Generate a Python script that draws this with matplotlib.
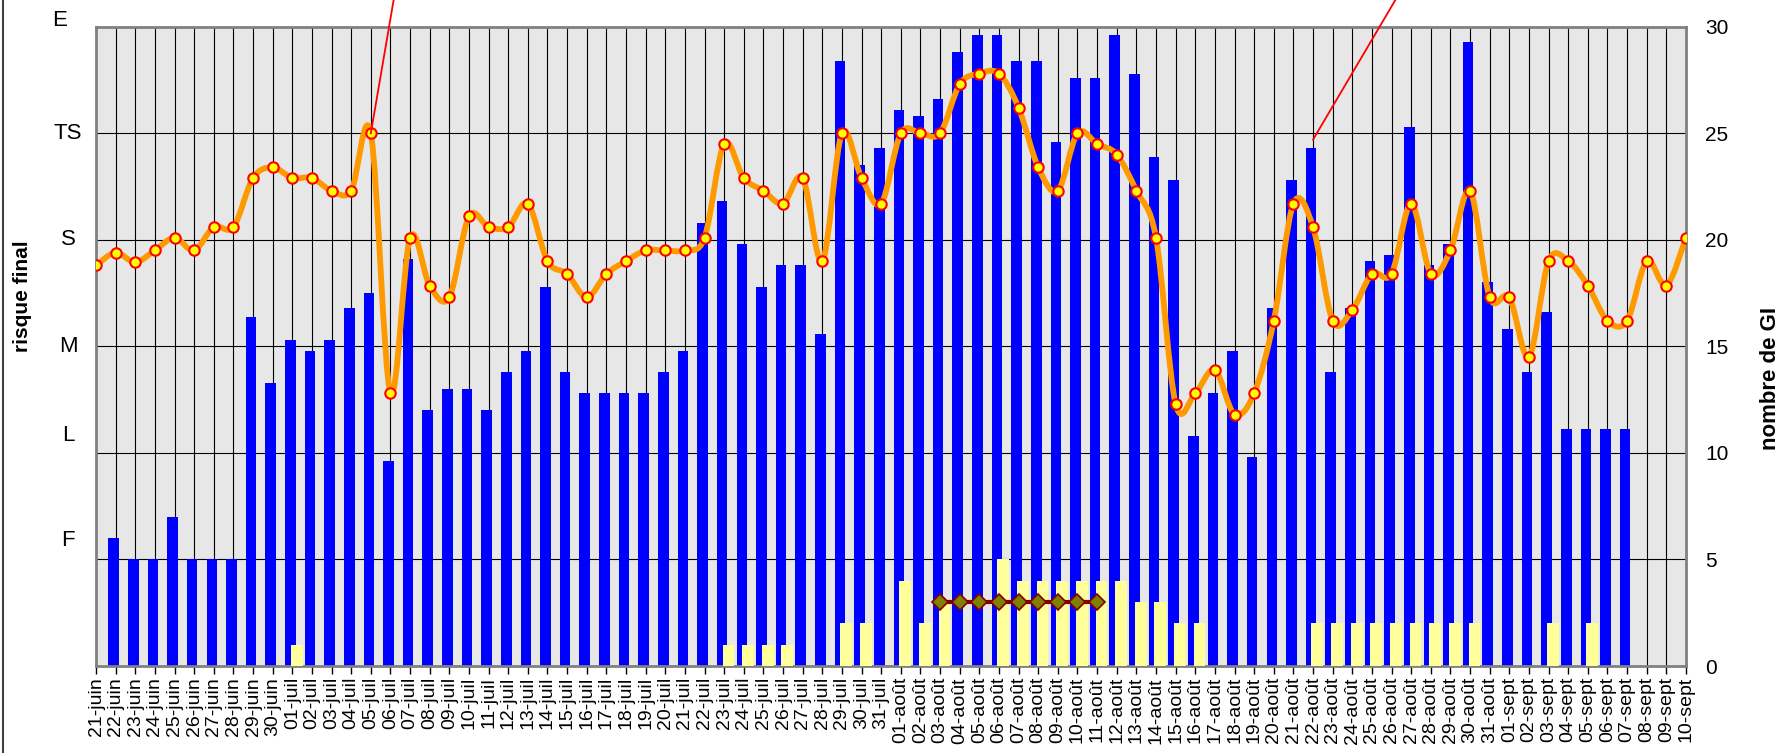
import matplotlib
matplotlib.use('Agg')
import matplotlib.pyplot as plt
from matplotlib.path import Path
from matplotlib.patches import PathPatch
from matplotlib.lines import Line2D
import numpy as np

plt.rcParams['font.family'] = ['Liberation Sans', 'DejaVu Sans']

# jours du 21 juin au 10 sept
mois = [('juin', 21, 30), ('juil', 1, 31), ('août', 1, 31), ('sept', 1, 10)]
dates = ['%02d-%s' % (d, m) for m, d0, d1 in mois for d in range(d0, d1 + 1)]

# nombre de GI (barres bleues)
nb_gi = [0, 6, 5, 5, 7, 5, 5, 5, 16.4, 13.3,
         15.3, 14.8, 15.3, 16.8, 17.5, 9.6, 19.1, 12.0, 13.0, 13.0,
         12.0, 13.8, 14.8, 17.8, 13.8, 12.8, 12.8, 12.8, 12.8, 13.8,
         14.8, 20.8, 21.8, 19.8, 17.8, 18.8, 18.8, 15.6, 28.4, 23.5,
         24.3, 26.1, 25.8, 26.6, 28.8, 29.6, 29.6, 28.4, 28.4, 24.6,
         27.6, 27.6, 29.6, 27.8, 23.9, 22.8, 10.8, 12.8, 14.8, 9.8,
         16.8, 22.8, 24.3, 13.8, 16.8, 19.0, 19.3, 25.3, 18.8, 19.8,
         29.3, 18.0, 15.8, 13.8, 16.6, 11.1, 11.1, 11.1, 11.1, 0,
         0, 0]

# second serie (barres jaunes)
nb_jaune = [0, 0, 0, 0, 0, 0, 0, 0, 0, 0,
            1, 0, 0, 0, 0, 0, 0, 0, 0, 0,
            0, 0, 0, 0, 0, 0, 0, 0, 0, 0,
            0, 0, 1, 1, 1, 1, 0, 0, 2, 2,
            0, 4, 2, 3, 0, 0, 5, 4, 4, 4,
            4, 4, 4, 3, 3, 2, 2, 0, 0, 0,
            0, 0, 2, 2, 2, 2, 2, 2, 2, 2,
            2, 0, 0, 0, 2, 0, 2, 0, 0, 0,
            0, 0]

# risque final (courbe orange)
risque = [18.8, 19.4, 18.95, 19.5, 20.1, 19.5, 20.6, 20.6, 22.9, 23.4,
          22.9, 22.9, 22.3, 22.3, 25.0, 12.8, 20.1, 17.85, 17.3, 21.1,
          20.6, 20.6, 21.7, 19.0, 18.4, 17.3, 18.4, 19.0, 19.5, 19.5,
          19.5, 20.1, 24.5, 22.9, 22.3, 21.7, 22.9, 19.0, 25.0, 22.9,
          21.7, 25.0, 25.0, 25.0, 27.3, 27.8, 27.8, 26.2, 23.4, 22.3,
          25.0, 24.5, 24.0, 22.3, 20.1, 12.3, 12.8, 13.9, 11.8, 12.8,
          16.2, 21.7, 20.6, 16.2, 16.7, 18.4, 18.4, 21.7, 18.4, 19.5,
          22.3, 17.3, 17.3, 14.5, 19.0, 19.0, 17.85, 16.2, 16.2, 19.0,
          17.85, 20.1]

# serie en losanges
losange_dates = ['03-août', '04-août', '05-août', '06-août', '07-août',
                 '08-août', '09-août', '10-août', '11-août']
losange_val = [3, 3, 3, 3, 3, 3, 3, 3, 3]

# niveaux de risque (axe de gauche)
niveaux = ['F', 'L', 'M', 'S', 'TS', 'E']
niveaux_pos = [5.9, 10.8, 15, 20, 25, 30.3]

# traits rouges : (date, valeur) vers le haut
fleches = [('05-juil', 25.0), ('22-août', 24.7)]


def courbe_lisse(x, y):
    # bezier type catmull-rom, comme la courbe lissee d'excel
    x = np.asarray(x, float)
    y = np.asarray(y, float)
    xp = np.r_[x[0], x, x[-1]]
    yp = np.r_[y[0], y, y[-1]]
    verts = [(x[0], y[0])]
    codes = [Path.MOVETO]
    for i in range(len(x) - 1):
        c1 = (x[i] + (xp[i + 2] - xp[i]) / 6, y[i] + (yp[i + 2] - yp[i]) / 6)
        c2 = (x[i + 1] - (xp[i + 3] - xp[i + 1]) / 6, y[i + 1] - (yp[i + 3] - yp[i + 1]) / 6)
        verts += [c1, c2, (x[i + 1], y[i + 1])]
        codes += [Path.CURVE4] * 3
    return Path(verts, codes)


x = np.arange(len(dates))

fig = plt.figure(figsize=(17.85, 7.53), dpi=100)
ax = fig.add_axes([96 / 1785, 1 - 666 / 753, 1590 / 1785, 639.3 / 753])
ax.set_facecolor('#e7e7e7')

# quadrillage
for xi in x[1:-1]:
    ax.axvline(xi, color='black', lw=0.8, zorder=1)
for yi in range(5, 30, 5):
    ax.axhline(yi, color='black', lw=0.8, zorder=1)

ax.bar(x - 0.1, nb_gi, width=0.54, color='#0000ff', zorder=2)
ax.bar(x + 0.22, nb_jaune, width=0.6, color='#ffff99', zorder=3)

ax.add_patch(PathPatch(courbe_lisse(x, risque), fill=False, edgecolor='#ff9900',
                       lw=4.2, zorder=4, capstyle='round', joinstyle='round'))
ax.plot(x, risque, ls='none', marker='o', ms=7.5, mfc='#ffff00', mec='#ff0000',
        mew=1.5, zorder=5)

lx = [dates.index(d) for d in losange_dates]
ax.plot(lx, losange_val, color='#800000', lw=3, marker='D', ms=8.5,
        mfc='#808000', mec='#800000', mew=1.2, zorder=6)

# traits rouges vers les commentaires
for d, v in fleches:
    i = dates.index(d)
    pente = 0.186 if d == '05-juil' else 0.64
    ax.plot([i, i + pente * (31.6 - v)], [v, 31.6], color='red', lw=1.3,
            clip_on=False, zorder=7)

ax.set_xlim(0, len(dates) - 1)
ax.set_ylim(0, 30)
ax.set_xticks(x)
ax.set_xticklabels(dates, rotation=90, fontsize=14)
ax.tick_params(axis='x', length=6, width=1, color='black', pad=2)

ax.yaxis.tick_right()
ax.set_yticks(range(0, 31, 5))
ax.tick_params(axis='y', length=0, pad=14, labelsize=15)

for s in ax.spines.values():
    s.set_color('#808080')
    s.set_linewidth(2)

for lab, pos in zip(niveaux, niveaux_pos):
    xt = -0.023 if lab == 'E' else -0.0176
    ax.text(xt, pos, lab, transform=ax.get_yaxis_transform(), ha='center',
            va='center', fontsize=16)

fig.text(22 / 1785, 1 - 296 / 753, 'risque final', rotation=90, ha='center',
         va='center', fontsize=15, fontweight='bold')
fig.text(1770 / 1785, 1 - 378 / 753, 'nombre de GI', rotation=90, ha='center',
         va='center', fontsize=16, fontweight='bold')

fig.add_artist(Line2D([0.0017, 0.0017], [0, 1], transform=fig.transFigure,
                      color='#404040', lw=1.5))

fig.savefig('out.png', dpi=100)
